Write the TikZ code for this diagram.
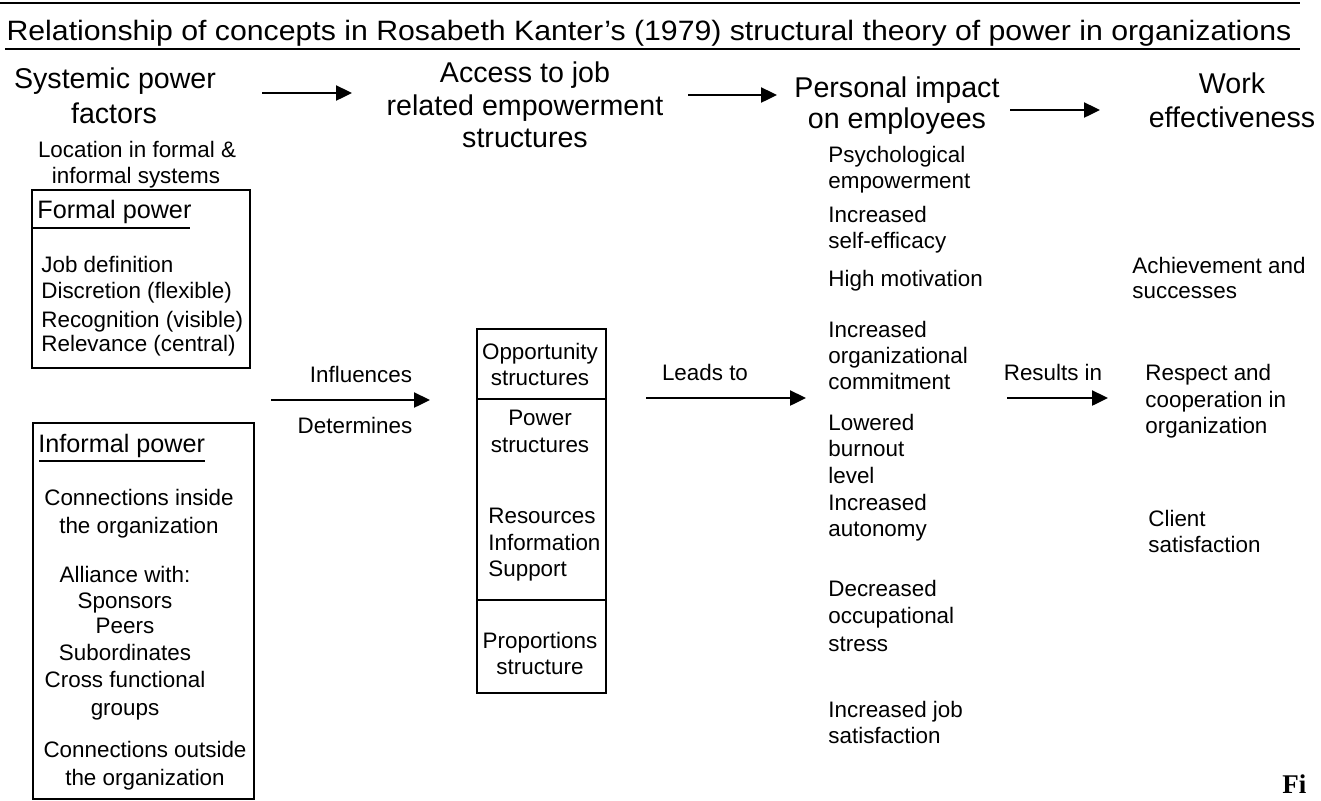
\documentclass[tikz,border=0pt]{standalone}
\usepackage{fontspec}
\setmainfont{Liberation Sans}
\newfontfamily\serifb{Liberation Serif}
\newfontfamily\titlefam[FakeStretch=1.08,Ligatures=TeX]{Liberation Sans}
\usetikzlibrary{arrows.meta}
\begin{document}
\begin{tikzpicture}[x=0.5pt,y=-0.5pt,
  txt/.style={inner sep=0pt, anchor=base, font=\fontsize{11.2}{13}\selectfont},
  txtl/.style={txt, anchor=base west},
  head/.style={inner sep=0pt, anchor=base, font=\fontsize{14.3}{17}\selectfont},
  bhead/.style={inner sep=0pt, anchor=base west, font=\fontsize{12.6}{15}\selectfont},
  titlefont/.style={inner sep=0pt, anchor=base, font=\titlefam\fontsize{14}{16}\selectfont},
  boxed/.style={draw, line width=1pt, inner sep=0pt, anchor=north west},
  arr/.style={line width=1.2pt, -{Triangle[length=8pt,width=7.5pt]}},
  rulel/.style={line width=1pt}]
\useasboundingbox (0,0) rectangle (1321,800);
\fill[white] (0,0) rectangle (1321,800);

% title and rules
\coordinate (r1a) at (0,3); \coordinate (r1b) at (1300,3);
\draw[rulel] (r1a) -- (r1b);
\node[titlefont] (title) at (649,40) {Relationship of concepts in Rosabeth Kanter’s (1979) structural theory of power in organizations};
\coordinate (r2a) at (5,49); \coordinate (r2b) at (1300,49);
\draw[rulel] (r2a) -- (r2b);

% headers
\node[head] (h1a) at (115,88) {Systemic power};
\node[head] (h1b) at (114,123) {factors};
\node[head] (h2a) at (525,82) {Access to job};
\node[head] (h2b) at (525,115) {related empowerment};
\node[head] (h2c) at (525,147) {structures};
\node[head] (h3a) at (897,97) {Personal impact};
\node[head] (h3b) at (897,128) {on employees};
\node[head] (h4a) at (1232,93) {Work};
\node[head] (h4b) at (1232,127) {effectiveness};

\coordinate (a1s) at (262,93); \coordinate (a1e) at (352,93);
\coordinate (a2s) at (688,95); \coordinate (a2e) at (777,95);
\coordinate (a3s) at (1010,110); \coordinate (a3e) at (1100,110);
\draw[arr] (a1s) -- (a1e);
\draw[arr] (a2s) -- (a2e);
\draw[arr] (a3s) -- (a3e);

% location
\node[txt] (loc1) at (137,157) {Location in formal \&};
\node[txt] (loc2) at (136,183) {informal systems};

% formal power box
\node[boxed, minimum width=109pt, minimum height=89pt] (formalbox) at (31,189) {};
\node[bhead] (formalhead) at (37,218) {Formal power};
\coordinate (ful1) at (31,228); \coordinate (ful2) at (190,228);
\draw[rulel] (ful1) -- (ful2);
\node[txtl] (f1) at (41,272) {Job definition};
\node[txtl] (f2) at (41,298) {Discretion (flexible)};
\node[txtl] (f3) at (41,327) {Recognition (visible)};
\node[txtl] (f4) at (41,351) {Relevance (central)};

% informal power box
\node[boxed, minimum width=110.5pt, minimum height=188pt] (informalbox) at (32,422) {};
\node[bhead] (informalhead) at (38,452) {Informal power};
\coordinate (iul1) at (39,461); \coordinate (iul2) at (205,461);
\draw[rulel] (iul1) -- (iul2);
\node[txt] (i1) at (139,505) {Connections inside};
\node[txt] (i2) at (139,533) {the organization};
\node[txt] (i3) at (125,582) {Alliance with:};
\node[txt] (i4) at (125,608) {Sponsors};
\node[txt] (i5) at (125,633) {Peers};
\node[txt] (i6) at (125,660) {Subordinates};
\node[txt] (i7) at (125,687) {Cross functional};
\node[txt] (i8) at (125,715) {groups};
\node[txt] (i9) at (145,757) {Connections outside};
\node[txt] (i10) at (145,785) {the organization};

% influences arrow
\node[txt] (infl) at (361,382) {Influences};
\node[txt] (det) at (355,433) {Determines};
\coordinate (a4s) at (271,400); \coordinate (a4e) at (430,400);
\draw[arr] (a4s) -- (a4e);

% middle stacked box
\node[boxed, minimum width=64.5pt, minimum height=35pt] (cell1) at (476,328) {};
\node[boxed, minimum width=64.5pt, minimum height=100.5pt] (cell2) at (476,398) {};
\node[boxed, minimum width=64.5pt, minimum height=46.5pt] (cell3) at (476,599) {};
\node[txt] (m1) at (540,359) {Opportunity};
\node[txt] (m2) at (540,385) {structures};
\node[txt] (m3) at (540,425) {Power};
\node[txt] (m4) at (540,452) {structures};
\node[txtl] (m5) at (488,523) {Resources};
\node[txtl] (m6) at (488,550) {Information};
\node[txtl] (m7) at (488,576) {Support};
\node[txt] (m8) at (540,648) {Proportions};
\node[txt] (m9) at (540,674) {structure};

% leads to
\node[txt] (leads) at (705,380) {Leads to};
\coordinate (a5s) at (646,398); \coordinate (a5e) at (806,398);
\draw[arr] (a5s) -- (a5e);

% personal impact items
\node[txtl] (p1) at (828,162) {Psychological};
\node[txtl] (p2) at (828,188) {empowerment};
\node[txtl] (p3) at (828,222) {Increased};
\node[txtl] (p4) at (828,248) {self-efficacy};
\node[txtl] (p5) at (828,286) {High motivation};
\node[txtl] (p6) at (828,337) {Increased};
\node[txtl] (p7) at (828,363) {organizational};
\node[txtl] (p8) at (828,389) {commitment};
\node[txtl] (p9) at (828,430) {Lowered};
\node[txtl] (p10) at (828,456) {burnout};
\node[txtl] (p11) at (828,483) {level};
\node[txtl] (p12) at (828,510) {Increased};
\node[txtl] (p13) at (828,536) {autonomy};
\node[txtl] (p14) at (828,596) {Decreased};
\node[txtl] (p15) at (828,623) {occupational};
\node[txtl] (p16) at (828,651) {stress};
\node[txtl] (p17) at (828,717) {Increased job};
\node[txtl] (p18) at (828,743) {satisfaction};

% results in
\node[txt] (res) at (1053,380) {Results in};
\coordinate (a6s) at (1007,398); \coordinate (a6e) at (1108,398);
\draw[arr] (a6s) -- (a6e);

% work effectiveness items
\node[txtl] (w1) at (1132,273) {Achievement and};
\node[txtl] (w2) at (1132,298) {successes};
\node[txtl] (w3) at (1145,380) {Respect and};
\node[txtl] (w4) at (1145,407) {cooperation in};
\node[txtl] (w5) at (1145,433) {organization};
\node[txtl] (w6) at (1148,526) {Client};
\node[txtl] (w7) at (1148,552) {satisfaction};

% cut caption
\node[inner sep=0pt, anchor=base west, font=\serifb\bfseries\fontsize{13.5}{16}\selectfont] (fig) at (1282,793) {Fi};
\end{tikzpicture}
\end{document}
